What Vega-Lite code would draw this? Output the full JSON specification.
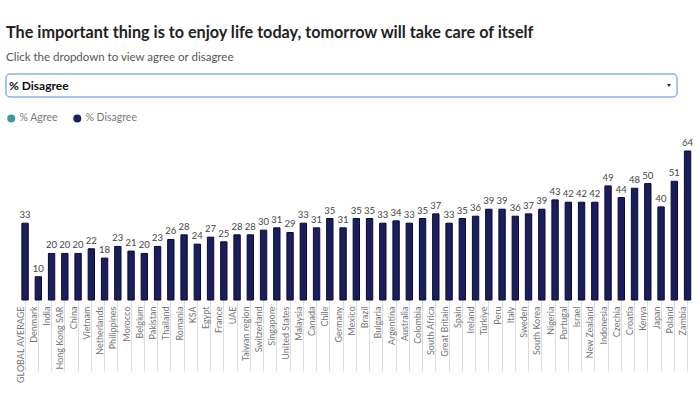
{
  "$schema": "https://vega.github.io/schema/vega-lite/v6.json",
  "padding": {"left": 5, "top": 24, "right": 0, "bottom": 0},
  "background": "white",
  "title": {
    "text": "The important thing is to enjoy life today, tomorrow will take care of itself",
    "subtitle": "Click the dropdown to view agree or disagree",
    "anchor": "start",
    "frame": "group",
    "font": "Lato",
    "fontSize": 16.2,
    "fontWeight": "bold",
    "color": "#222222",
    "subtitleFont": "Lato",
    "subtitleFontSize": 11.5,
    "subtitleColor": "#555555",
    "subtitlePadding": 11,
    "offset": 10
  },
  "spacing": 15,
  "resolve": {"legend": {"color": "independent"}},
  "vconcat": [
    {
      "width": 671,
      "height": 23,
      "view": {"stroke": "#8db0f0", "strokeWidth": 1.5, "cornerRadius": 4, "fill": "white"},
      "data": {"values": [{"option": "% Disagree"}]},
      "layer": [
        {
          "mark": {"type": "text", "align": "left", "baseline": "middle", "dx": 3, "font": "Lato", "fontSize": 12, "fontWeight": "bold", "color": "#111111"},
          "encoding": {
            "x": {"datum": 0, "type": "quantitative", "scale": {"domain": [0, 1]}, "axis": null},
            "y": {"datum": 0.5, "type": "quantitative", "scale": {"domain": [0, 1]}, "axis": null},
            "text": {"field": "option"}
          }
        },
        {
          "mark": {"type": "point", "shape": "triangle-down", "filled": true, "size": 14, "color": "#222222", "opacity": 1, "xOffset": -8},
          "encoding": {
            "x": {"datum": 1, "type": "quantitative", "scale": {"domain": [0, 1]}, "axis": null},
            "y": {"datum": 0.5, "type": "quantitative", "scale": {"domain": [0, 1]}, "axis": null}
          }
        }
      ]
    },
    {
      "width": 687.4,
      "height": 149,
      "view": {"stroke": null},
      "data": {
        "values": [
          {"country": "GLOBAL AVERAGE", "value": 33, "series": "% Disagree"},
          {"country": " ", "value": null, "series": "% Disagree"},
          {"country": "Denmark", "value": 10, "series": "% Disagree"},
          {"country": "India", "value": 20, "series": "% Disagree"},
          {"country": "Hong Kong SAR", "value": 20, "series": "% Disagree"},
          {"country": "China", "value": 20, "series": "% Disagree"},
          {"country": "Vietnam", "value": 22, "series": "% Disagree"},
          {"country": "Netherlands", "value": 18, "series": "% Disagree"},
          {"country": "Philippines", "value": 23, "series": "% Disagree"},
          {"country": "Morocco", "value": 21, "series": "% Disagree"},
          {"country": "Belgium", "value": 20, "series": "% Disagree"},
          {"country": "Pakistan", "value": 23, "series": "% Disagree"},
          {"country": "Thailand", "value": 26, "series": "% Disagree"},
          {"country": "Romania", "value": 28, "series": "% Disagree"},
          {"country": "KSA", "value": 24, "series": "% Disagree"},
          {"country": "Egypt", "value": 27, "series": "% Disagree"},
          {"country": "France", "value": 25, "series": "% Disagree"},
          {"country": "UAE", "value": 28, "series": "% Disagree"},
          {"country": "Taiwan region", "value": 28, "series": "% Disagree"},
          {"country": "Switzerland", "value": 30, "series": "% Disagree"},
          {"country": "Singapore", "value": 31, "series": "% Disagree"},
          {"country": "United States", "value": 29, "series": "% Disagree"},
          {"country": "Malaysia", "value": 33, "series": "% Disagree"},
          {"country": "Canada", "value": 31, "series": "% Disagree"},
          {"country": "Chile", "value": 35, "series": "% Disagree"},
          {"country": "Germany", "value": 31, "series": "% Disagree"},
          {"country": "Mexico", "value": 35, "series": "% Disagree"},
          {"country": "Brazil", "value": 35, "series": "% Disagree"},
          {"country": "Bulgaria", "value": 33, "series": "% Disagree"},
          {"country": "Argentina", "value": 34, "series": "% Disagree"},
          {"country": "Australia", "value": 33, "series": "% Disagree"},
          {"country": "Colombia", "value": 35, "series": "% Disagree"},
          {"country": "South Africa", "value": 37, "series": "% Disagree"},
          {"country": "Great Britain", "value": 33, "series": "% Disagree"},
          {"country": "Spain", "value": 35, "series": "% Disagree"},
          {"country": "Ireland", "value": 36, "series": "% Disagree"},
          {"country": "Türkiye", "value": 39, "series": "% Disagree"},
          {"country": "Peru", "value": 39, "series": "% Disagree"},
          {"country": "Italy", "value": 36, "series": "% Disagree"},
          {"country": "Sweden", "value": 37, "series": "% Disagree"},
          {"country": "South Korea", "value": 39, "series": "% Disagree"},
          {"country": "Nigeria", "value": 43, "series": "% Disagree"},
          {"country": "Portugal", "value": 42, "series": "% Disagree"},
          {"country": "Israel", "value": 42, "series": "% Disagree"},
          {"country": "New Zealand", "value": 42, "series": "% Disagree"},
          {"country": "Indonesia", "value": 49, "series": "% Disagree"},
          {"country": "Czechia", "value": 44, "series": "% Disagree"},
          {"country": "Croatia", "value": 48, "series": "% Disagree"},
          {"country": "Kenya", "value": 50, "series": "% Disagree"},
          {"country": "Japan", "value": 40, "series": "% Disagree"},
          {"country": "Poland", "value": 51, "series": "% Disagree"},
          {"country": "Zambia", "value": 64, "series": "% Disagree"}
        ]
      },
      "encoding": {
        "x": {
          "field": "country",
          "type": "nominal",
          "sort": null,
          "scale": {"paddingInner": 0.52, "paddingOuter": 0.7, "align": 0.857, "round": false},
          "axis": {
            "title": null,
            "domain": false,
            "ticks": true,
            "tickSize": 71,
            "tickColor": "#dddddd",
            "tickWidth": 1,
            "labelAngle": -90,
            "labelAlign": "right",
            "labelBaseline": "alphabetic",
            "labelPadding": -65,
            "labelFont": "Lato",
            "labelFontSize": 9,
            "labelColor": "#757575",
            "labelOffset": -1.5
          }
        },
        "y": {
          "field": "value",
          "type": "quantitative",
          "scale": {"domain": [0, 64], "nice": false, "zero": true},
          "axis": null
        }
      },
      "layer": [
        {
          "mark": {"type": "bar", "stroke": "#0b0b2e", "strokeWidth": 1},
          "encoding": {
            "color": {
              "field": "series",
              "type": "nominal",
              "scale": {"domain": ["% Agree", "% Disagree"], "range": ["#3d9b9d", "#1b1e5c"]},
              "legend": {
                "orient": "top",
                "title": null,
                "symbolType": "circle",
                "symbolSize": 64,
                "symbolStrokeWidth": 0,
                "symbolOpacity": 1,
                "labelFont": "Lato",
                "labelFontSize": 10.5,
                "labelColor": "#7a7a7a",
                "labelOffset": 3,
                "columnPadding": 14,
                "offset": 27
              }
            }
          }
        },
        {
          "mark": {"type": "text", "baseline": "bottom", "dy": -3, "font": "Lato", "fontSize": 9.5, "color": "#444444"},
          "encoding": {"text": {"field": "value", "type": "quantitative"}}
        }
      ]
    }
  ]
}
